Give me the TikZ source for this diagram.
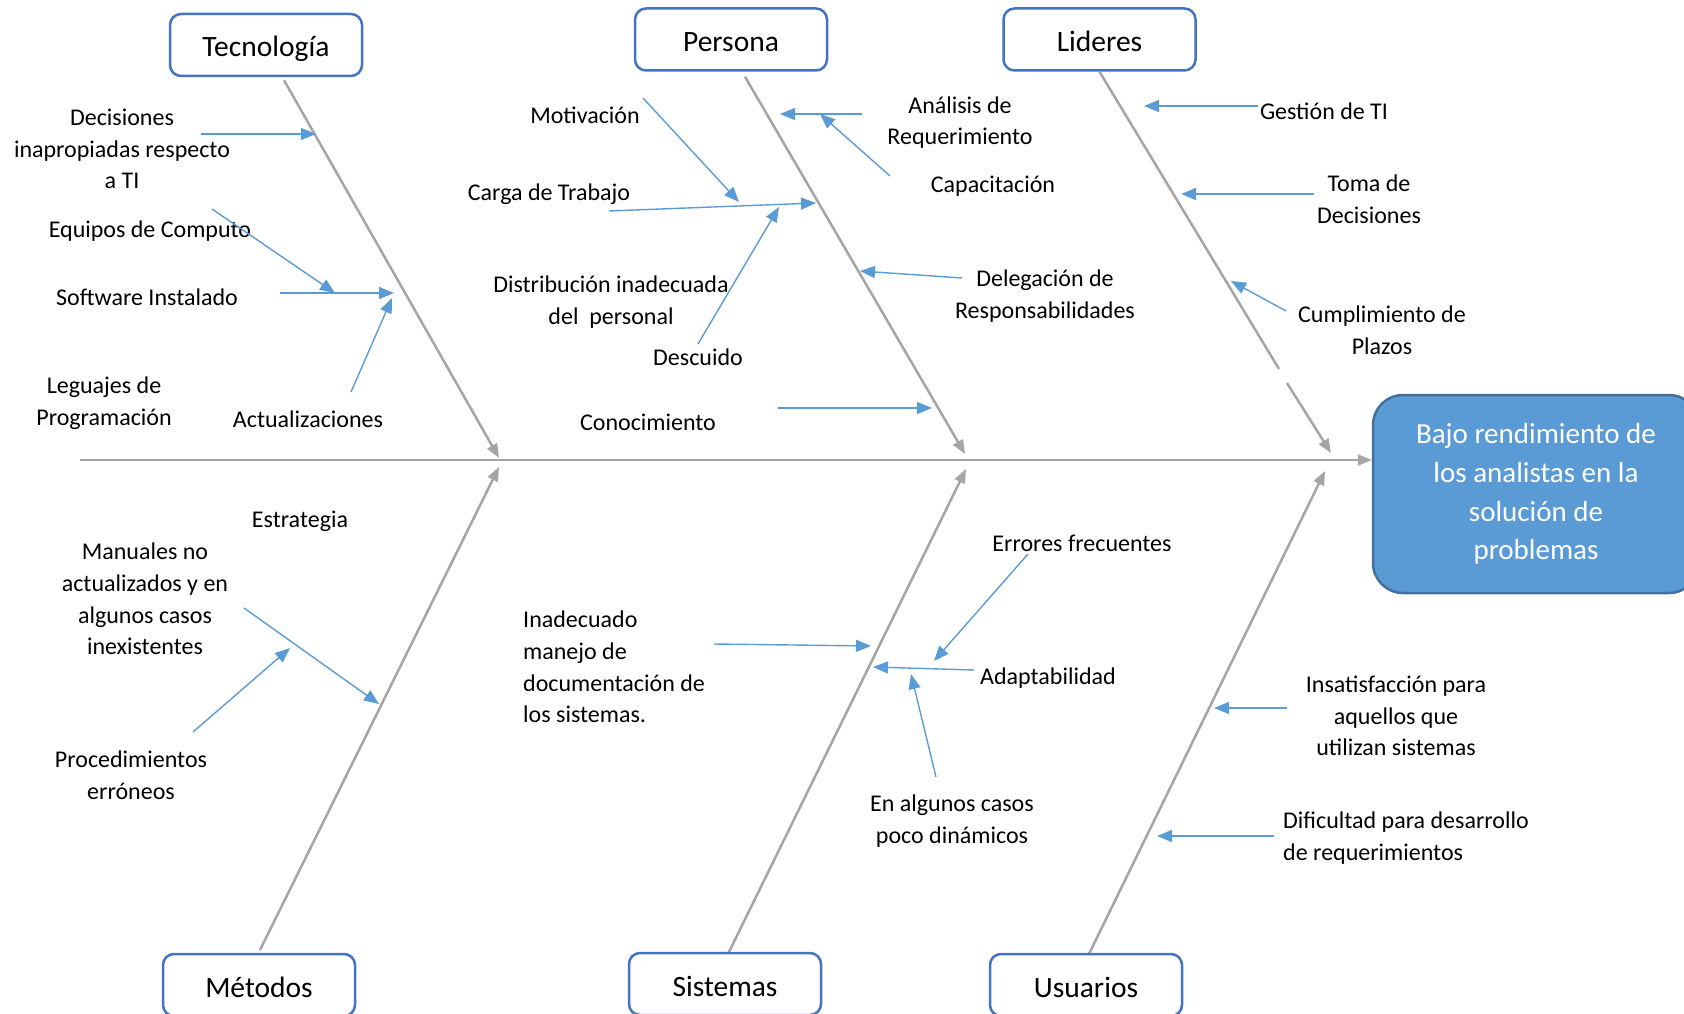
\documentclass[tikz,border=0pt]{standalone}
\usepackage{fontspec}
\setmainfont{Carlito}
\usetikzlibrary{arrows.meta}
\definecolor{boneGray}{HTML}{A5A5A5}
\definecolor{causeBlue}{HTML}{5B9BD5}
\definecolor{boxBlue}{HTML}{4472C4}
\definecolor{effectLine}{HTML}{41719C}
\begin{document}
\begin{tikzpicture}[x=1pt,y=-1pt,
  catbox/.style={draw=boxBlue, line width=2.5pt, rounded corners=11pt, fill=white,
    minimum width=192pt, minimum height=62pt, inner sep=0pt,
    text height=28pt, text depth=4pt,
    font=\fontsize{29.5}{38}\selectfont},
  lbl/.style={inner sep=0pt, align=center, yshift=-1.5pt, font=\fontsize{24}{31.6}\selectfont},
  lblL/.style={lbl, align=left, anchor=west},
  bone/.style={draw=boneGray, line width=2.5pt, -{Triangle[length=14pt,width=11pt]}},
  bonepart/.style={draw=boneGray, line width=2.5pt},
  cause/.style={draw=causeBlue, line width=1.4pt, -{Triangle[length=15pt,width=12pt]}},
  effectbox/.style={draw=effectLine, fill=causeBlue, line width=2.5pt, rounded corners=30pt,
    minimum width=326pt, minimum height=198pt, inner sep=0pt, align=center,
    text=white, font=\fontsize{29}{38.7}\selectfont}
]
\useasboundingbox (0,0) rectangle (1684,1014);
\clip (0,0) rectangle (1684,1014);

% effect (head of the fish)
\node[effectbox] (effect) at (1536,494)
  {Bajo rendimiento de\\los analistas en la\\soluci\'on de\\problemas};

% spine
\coordinate (spineL) at (80,460);
\draw[bone] (spineL) -- (spineL -| effect.west);

% category boxes
\node[catbox] (tec) at (266,45) {Tecnología};
\node[catbox] (per) at (731,39.5) {Persona};
\node[catbox] (lid) at (1099.5,39.5) {Lideres};

% bone tips on the spine
\coordinate (tecTip) at (499,458);
\coordinate (perTip) at (965,454);
\coordinate (lidTip) at (1331,453);
\coordinate (metTip) at (499,467);
\coordinate (sisTip) at (966,469);
\coordinate (usuTip) at (1325,471);
\coordinate (lidGapA) at (1279,369);
\coordinate (lidGapB) at (1287,383);

% upper bones
\draw[bone] ([xshift=18pt,yshift=-3pt]tec.south) -- (tecTip);
\draw[bone] ([xshift=14pt,yshift=-5pt]per.south) -- (perTip);
\draw[bonepart] (lid.south) -- (lidGapA);
\draw[bone] (lidGapB) -- (lidTip);

% lower bones
\coordinate (metBot) at (260,950);
\coordinate (sisBot) at (727,956);
\coordinate (usuBot) at (1087,958);
\draw[bone] (metBot) -- (metTip);
\draw[bone] (sisBot) -- (sisTip);
\draw[bone] (usuBot) -- (usuTip);

\node[catbox] (met) at (259,985) {Métodos};
\node[catbox] (sis) at (725,984) {Sistemas};
\node[catbox] (usu) at (1086,985) {Usuarios};

% ---- Tecnología causes
\node[lbl] (decis) at (122,147.5) {Decisiones\\inapropiadas respecto\\a TI};
\node[lbl] (equip) at (150,230) {Equipos de Computo};
\node[lbl] (softw) at (147,296) {Software Instalado};
\node[lbl] (actua) at (308,418) {Actualizaciones};
\node[lbl] (legua) at (104,401.5) {Leguajes de\\Programación};

\coordinate (a1s) at (201,134);  \coordinate (a1e) at (316,134);
\coordinate (a2s) at (212,209);  \coordinate (a2e) at (335,293);
\coordinate (a3s) at (280,293);  \coordinate (a3e) at (394,293);
\coordinate (a4s) at (351,392);  \coordinate (a4e) at (392,298);
\draw[cause] (a1s) -- (a1e);
\draw[cause] (a2s) -- (a2e);
\draw[cause] (a3s) -- (a3e);
\draw[cause] (a4s) -- (a4e);

% ---- Persona causes
\node[lbl] (motiv) at (585,114) {Motivación};
\node[lbl] (carga) at (549,193) {Carga de Trabajo};
\node[lbl] (distr) at (611,300.5) {Distribución inadecuada\\del~ personal};
\node[lbl] (descu) at (698,356) {Descuido};
\node[lbl] (conoc) at (648,421) {Conocimiento};
\node[lbl] (anali) at (960,121) {Análisis de\\Requerimiento};
\node[lbl] (capac) at (993,185) {Capacitación};
\node[lbl] (deleg) at (1045,294.5) {Delegación de\\Responsabilidades};

\coordinate (a5s) at (643,98);   \coordinate (a5e) at (739,202);
\coordinate (a6s) at (609,211);  \coordinate (a6e) at (816,203);
\coordinate (a7s) at (698,344);  \coordinate (a7e) at (779,207);
\coordinate (a8s) at (778,408);  \coordinate (a8e) at (932,408);
\coordinate (a9s) at (862,114);  \coordinate (a9e) at (780,114);
\coordinate (a10s) at (890,176); \coordinate (a10e) at (820,114);
\coordinate (a11s) at (962,278); \coordinate (a11e) at (860,271);
\draw[cause] (a5s) -- (a5e);
\draw[cause] (a6s) -- (a6e);
\draw[cause] (a7s) -- (a7e);
\draw[cause] (a8s) -- (a8e);
\draw[cause] (a9s) -- (a9e);
\draw[cause] (a10s) -- (a10e);
\draw[cause] (a11s) -- (a11e);

% ---- Lideres causes
\node[lbl] (gesti) at (1324,110) {Gestión de TI};
\node[lbl] (tomad) at (1369,197.5) {Toma de\\Decisiones};
\node[lbl] (cumpl) at (1382,328.5) {Cumplimiento de\\Plazos};

\coordinate (a12s) at (1258,106); \coordinate (a12e) at (1144,106);
\coordinate (a13s) at (1314,194); \coordinate (a13e) at (1181,194);
\coordinate (a14s) at (1286,311); \coordinate (a14e) at (1231,281);
\draw[cause] (a12s) -- (a12e);
\draw[cause] (a13s) -- (a13e);
\draw[cause] (a14s) -- (a14e);

% ---- Métodos causes
\node[lbl] (estra) at (300,520) {Estrategia};
\node[lbl] (manua) at (145,597.5) {Manuales no\\actualizados y en\\algunos casos\\inexistentes};
\node[lbl] (proce) at (131,773.5) {Procedimientos\\erróneos};

\coordinate (a15s) at (244,608); \coordinate (a15e) at (379,704);
\coordinate (a16s) at (193,732); \coordinate (a16e) at (290,648);
\draw[cause] (a15s) -- (a15e);
\draw[cause] (a16s) -- (a16e);

% ---- Sistemas causes
\node[lblL] (inade) at (523,665.5) {Inadecuado\\manejo de\\documentación de\\los sistemas.};
\node[lbl] (error) at (1082,542) {Errores frecuentes};
\node[lbl] (adapt) at (1048,677) {Adaptabilidad};
\node[lbl] (enalg) at (952,819.5) {En algunos casos\\poco dinámicos};

\coordinate (a17s) at (714,644);  \coordinate (a17e) at (871,646);
\coordinate (a18s) at (1028,554); \coordinate (a18e) at (934,661);
\coordinate (a19s) at (974,670);  \coordinate (a19e) at (873,667);
\coordinate (a20s) at (936,777);  \coordinate (a20e) at (911,674);
\draw[cause] (a17s) -- (a17e);
\draw[cause] (a18s) -- (a18e);
\draw[cause] (a19s) -- (a19e);
\draw[cause] (a20s) -- (a20e);

% ---- Usuarios causes
\node[lbl] (insat) at (1396,714.5) {Insatisfacción para\\aquellos que\\utilizan sistemas};
\node[lblL] (dific) at (1283,836.5) {Dificultad para desarrollo\\de requerimientos};

\coordinate (a21s) at (1287,708); \coordinate (a21e) at (1214,708);
\coordinate (a22s) at (1274,836); \coordinate (a22e) at (1157,836);
\draw[cause] (a21s) -- (a21e);
\draw[cause] (a22s) -- (a22e);
\end{tikzpicture}
\end{document}
